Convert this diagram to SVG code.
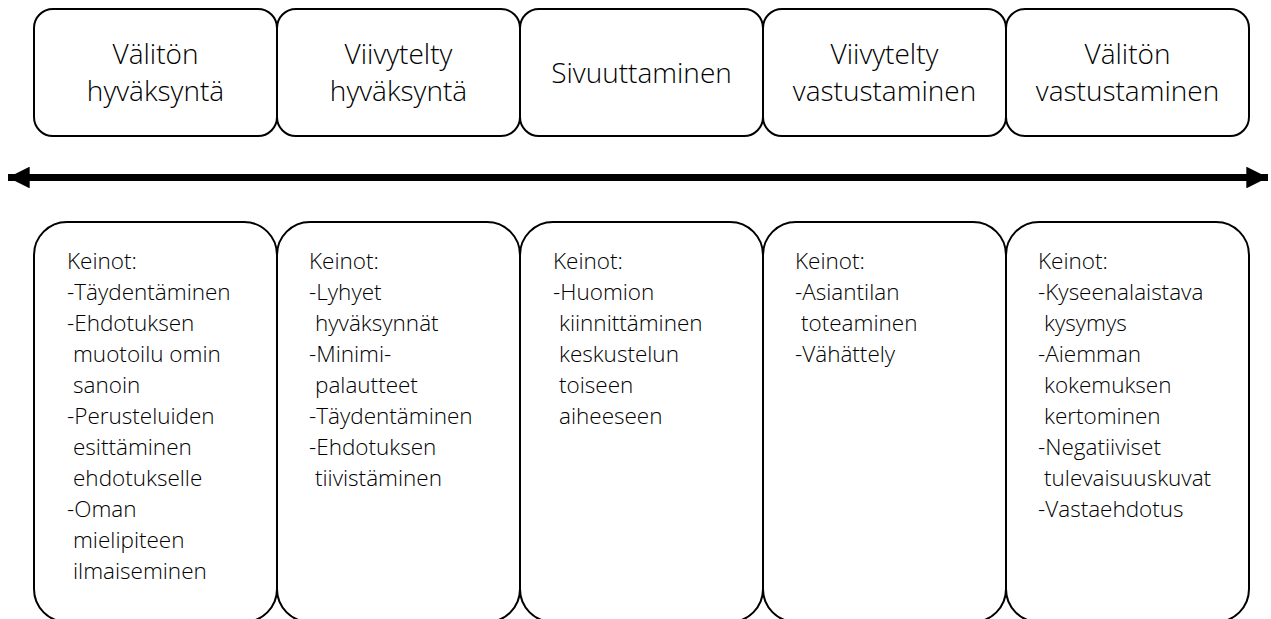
<svg xmlns="http://www.w3.org/2000/svg" width="1271" height="619" viewBox="0 0 1271 619">
<style>
.box{fill:#fff;stroke:#000;stroke-width:2}
.t{font-family:"Open Sans","Liberation Sans",sans-serif;font-weight:300;font-size:28px;fill:#000;text-anchor:middle}
.b{font-family:"Open Sans","Liberation Sans",sans-serif;font-weight:300;font-size:22.5px;fill:#000}
</style>
<defs>
<marker id="ah" viewBox="0 0 10 10" refX="10" refY="5" markerWidth="3.1" markerHeight="3.1" orient="auto-start-reverse" markerUnits="strokeWidth">
<path d="M0,0 L10,5 L0,10 Z" fill="#000"/>
</marker>
</defs>
<rect width="1271" height="619" fill="#fff"/>
<g id="connectors">
<line x1="8" y1="177.5" x2="1268" y2="177.5" stroke="#000" stroke-width="7" marker-start="url(#ah)" marker-end="url(#ah)"/>
</g>
<g id="top1"><rect class="box" x="34" y="9" width="243" height="127" rx="19"/>
<text class="t" x="155.5" y="64">Välitön</text><text class="t" x="155.5" y="101">hyväksyntä</text></g>
<g id="top2"><rect class="box" x="277" y="9" width="243" height="127" rx="19"/>
<text class="t" x="398.5" y="64">Viivytelty</text><text class="t" x="398.5" y="101">hyväksyntä</text></g>
<g id="top3"><rect class="box" x="520" y="9" width="243" height="127" rx="19"/>
<text class="t" x="641.5" y="83">Sivuuttaminen</text></g>
<g id="top4"><rect class="box" x="763" y="9" width="243" height="127" rx="19"/>
<text class="t" x="884.5" y="64">Viivytelty</text><text class="t" x="884.5" y="101">vastustaminen</text></g>
<g id="top5"><rect class="box" x="1006" y="9" width="243" height="127" rx="19"/>
<text class="t" x="1127.5" y="64">Välitön</text><text class="t" x="1127.5" y="101">vastustaminen</text></g>

<g id="bot1"><rect class="box" x="34" y="222" width="243" height="400" rx="33"/>
<text class="b" x="67" y="269">Keinot:</text>
<text class="b" x="67" y="300">-Täydentäminen</text>
<text class="b" x="67" y="331">-Ehdotuksen</text>
<text class="b" x="73" y="362">muotoilu omin</text>
<text class="b" x="73" y="393">sanoin</text>
<text class="b" x="67" y="424">-Perusteluiden</text>
<text class="b" x="73" y="455">esittäminen</text>
<text class="b" x="73" y="486">ehdotukselle</text>
<text class="b" x="67" y="517">-Oman</text>
<text class="b" x="73" y="548">mielipiteen</text>
<text class="b" x="73" y="579">ilmaiseminen</text></g>
<g id="bot2"><rect class="box" x="277" y="222" width="243" height="400" rx="33"/>
<text class="b" x="309" y="269">Keinot:</text>
<text class="b" x="309" y="300">-Lyhyet</text>
<text class="b" x="315" y="331">hyväksynnät</text>
<text class="b" x="309" y="362">-Minimi-</text>
<text class="b" x="315" y="393">palautteet</text>
<text class="b" x="309" y="424">-Täydentäminen</text>
<text class="b" x="309" y="455">-Ehdotuksen</text>
<text class="b" x="315" y="486">tiivistäminen</text></g>
<g id="bot3"><rect class="box" x="520" y="222" width="243" height="400" rx="33"/>
<text class="b" x="553" y="269">Keinot:</text>
<text class="b" x="553" y="300">-Huomion</text>
<text class="b" x="559" y="331">kiinnittäminen</text>
<text class="b" x="559" y="362">keskustelun</text>
<text class="b" x="559" y="393">toiseen</text>
<text class="b" x="559" y="424">aiheeseen</text></g>
<g id="bot4"><rect class="box" x="763" y="222" width="243" height="400" rx="33"/>
<text class="b" x="795" y="269">Keinot:</text>
<text class="b" x="795" y="300">-Asiantilan</text>
<text class="b" x="801" y="331">toteaminen</text>
<text class="b" x="795" y="362">-Vähättely</text></g>
<g id="bot5"><rect class="box" x="1006" y="222" width="243" height="400" rx="33"/>
<text class="b" x="1038" y="269">Keinot:</text>
<text class="b" x="1038" y="300">-Kyseenalaistava</text>
<text class="b" x="1044" y="331">kysymys</text>
<text class="b" x="1038" y="362">-Aiemman</text>
<text class="b" x="1044" y="393">kokemuksen</text>
<text class="b" x="1044" y="424">kertominen</text>
<text class="b" x="1038" y="455">-Negatiiviset</text>
<text class="b" x="1044" y="486">tulevaisuuskuvat</text>
<text class="b" x="1038" y="517">-Vastaehdotus</text></g>
</svg>
